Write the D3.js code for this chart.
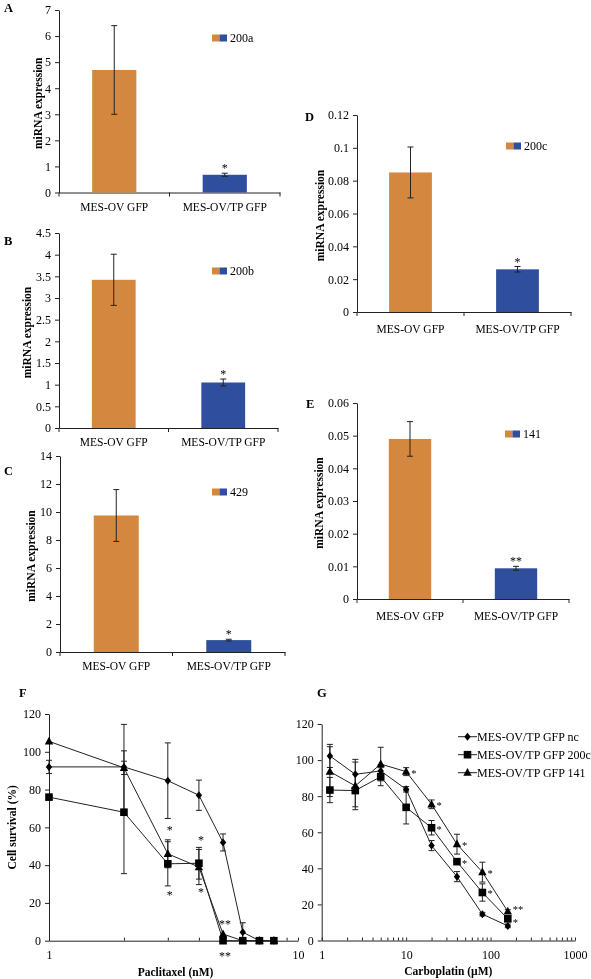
<!DOCTYPE html>
<html><head><meta charset="utf-8">
<script src="https://cdn.jsdelivr.net/npm/d3@7"></script>
<style>
body{margin:0;background:#fff}
svg{display:block;will-change:transform}
text{font-family:"Liberation Serif","Times New Roman",serif;fill:#000;-webkit-font-smoothing:antialiased}
.tick text{font-size:12px;font-family:"Liberation Serif","Times New Roman",serif}
.cat .tick text{font-size:11.5px}
.domain,.tick line{stroke:#222}
</style>
</head><body><svg id="c" width="591" height="979"></svg>
<script>
// ---------- data: bar panels ----------
const categories = ["MES-OV GFP", "MES-OV/TP GFP"];
const expr200a = [4.7, 0.68];   const err200a = [1.7, 0.06];  const sig200a = ["", "*"];
const expr200b = [3.42, 1.05];  const err200b = [0.59, 0.08]; const sig200b = ["", "*"];
const expr429  = [9.75, 0.85];  const err429  = [1.85, 0.06]; const sig429  = ["", "*"];
const expr200c = [0.085, 0.026]; const err200c = [0.0155, 0.0017]; const sig200c = ["", "*"];
const expr141  = [0.049, 0.0094]; const err141 = [0.0053, 0.0006]; const sig141 = ["", "**"];
const ticks200a = [0,1,2,3,4,5,6,7];
const ticks200b = [0,0.5,1,1.5,2,2.5,3,3.5,4,4.5];
const ticks429  = [0,2,4,6,8,10,12,14];
const ticks200c = [0,0.02,0.04,0.06,0.08,0.1,0.12];
const ticks141  = [0,0.01,0.02,0.03,0.04,0.05,0.06];
const barYTitle = "miRNA expression";

// ---------- data: Paclitaxel (F) ----------
const pacConc = [1,2,3,4,5,6,7,8];
const pacNc    = [92, 92, 84.7, 77, 52, 4.5, 0, 0];
const pacNcErr = [3.5, 22.5, 20, 8, 4.5, 5, 0, 0];
const pac200c    = [76, 68, 40.7, 41, 0, 0, 0, 0];
const pac200cErr = [0, 32.5, 11.7, 8.4, 0, 0, 0, 0];
const pac141    = [105.5, 91.5, 46, 39, 3.5, 0, 0, 0];
const pac141Err = [0, 3.5, 7.4, 9.3, 0, 0, 0, 0];
const pacStarConc = [3, 4, 3, 4, 5, 5];
const pacStarVal  = [59.7, 54.4, 25.3, 26.4, 9.9, -7];
const pacStarText = ["*", "*", "*", "*", "**", "**"];

// ---------- data: Carboplatin (G) ----------
const carbConc = [1.25, 2.5, 5, 10, 20, 40, 80, 160];
const carbNc    = [102.3, 92.1, 94, 83.8, 52.6, 35.4, 14.6, 8.1];
const carbNcErr = [6.4, 8.3, 3.3, 1.5, 2.8, 2.8, 1, 1];
const carb200c    = [83.4, 83.1, 90.8, 73.8, 62.5, 43.7, 26.6, 12];
const carb200cErr = [7, 9, 5, 9.2, 4, 1.5, 4.8, 1.5];
const carb141    = [93.6, 85.7, 97.8, 93.6, 75.5, 53.4, 37.9, 16.1];
const carb141Err = [13.8, 13.2, 9.3, 2.2, 2.4, 5.5, 5.5, 1];
const carbStarConc = [10, 20, 20, 40, 40, 80, 80, 160, 160];
const carbStarVal  = [93.6, 75.5, 62.5, 53.4, 43.7, 37.9, 26.6, 17.8, 11];
const carbStarText = ["*", "*", "*", "*", "*", "*", "*", "**", "*"];
const seriesNames = ["MES-OV/TP GFP nc", "MES-OV/TP GFP 200c", "MES-OV/TP GFP 141"];
const survivalTicks = [0,20,40,60,80,100,120];

// ---------- drawing ----------
const svg = d3.select("#c");
const INK = "#222";
const COLORS = ["#d4883f", "#2f4f9e"];

function barPanel(L, values, errors, sig, ticks, mir, letter) {
  const g = svg.append("g");
  const x = d3.scaleBand().domain(categories).range([L.x0, L.x1]).paddingInner(0.6).paddingOuter(0.3);
  const y = d3.scaleLinear().domain([0, d3.max(ticks)]).range([L.yb, L.yt]);
  const ya = g.append("g").attr("transform", `translate(${L.x0},0)`)
    .call(d3.axisLeft(y).tickValues(ticks).tickSize(4).tickPadding(4).tickSizeOuter(0).tickFormat(d3.format("~g")));
  ya.attr("font-family", null).attr("font-size", null);
  const xa = g.append("g").attr("class", "cat").attr("transform", `translate(0,${L.yb})`)
    .call(d3.axisBottom(x).tickSize(0).tickPadding(L.pad).tickSizeOuter(0));
  xa.attr("font-family", null).attr("font-size", null);
  g.selectAll("line.bt").data([L.x0, (L.x0 + L.x1) / 2, L.x1]).join("line")
    .attr("x1", d => d).attr("x2", d => d).attr("y1", L.yb).attr("y2", L.yb + 4).attr("stroke", INK);
  g.selectAll("rect.bar").data(values).join("rect")
    .attr("x", (d, i) => x(categories[i])).attr("width", x.bandwidth())
    .attr("y", d => y(d)).attr("height", d => L.yb - y(d)).attr("fill", (d, i) => COLORS[i]);
  values.forEach((v, i) => {
    const cx = x(categories[i]) + x.bandwidth() / 2;
    const e = errors[i];
    g.append("line").attr("x1", cx).attr("x2", cx).attr("y1", y(v - e)).attr("y2", y(v + e)).attr("stroke", INK);
    [v - e, v + e].forEach(t => g.append("line").attr("x1", cx - 3).attr("x2", cx + 3).attr("y1", y(t)).attr("y2", y(t)).attr("stroke", INK));
    if (sig[i]) g.append("text").attr("x", cx).attr("y", y(v + e) - 1).attr("text-anchor", "middle").attr("font-size", 12).text(sig[i]);
  });
  // legend
  g.append("rect").attr("x", L.lgx).attr("y", L.lgy - 3.5).attr("width", 7.5).attr("height", 7).attr("fill", COLORS[0]);
  g.append("rect").attr("x", L.lgx + 7.5).attr("y", L.lgy - 3.5).attr("width", 7.5).attr("height", 7).attr("fill", COLORS[1]);
  g.append("text").attr("x", L.lgx + 18).attr("y", L.lgy + 4).attr("font-size", 12).text(mir);
  g.append("text").attr("transform", `translate(${L.tx},${(L.yt + L.yb) / 2 + 2}) rotate(-90)`)
    .attr("text-anchor", "middle").attr("dominant-baseline", "central").attr("font-weight", "bold").attr("font-size", 11.5).text(barYTitle);
  g.append("text").attr("x", L.lx).attr("y", L.ly).attr("font-weight", "bold").attr("font-size", 12.5).text(letter);
}

barPanel({x0:59, x1:280, yt:10, yb:192.5, pad:10, lgx:212, lgy:38, tx:38, lx:4, ly:12}, expr200a, err200a, sig200a, ticks200a, "200a", "A");
barPanel({x0:59, x1:278, yt:233, yb:428, pad:10, lgx:212, lgy:271, tx:26.5, lx:4, ly:245}, expr200b, err200b, sig200b, ticks200b, "200b", "B");
barPanel({x0:60, x1:285, yt:456, yb:652, pad:10, lgx:212, lgy:492, tx:31, lx:4, ly:475}, expr429, err429, sig429, ticks429, "429", "C");
barPanel({x0:357, x1:571, yt:115, yb:312, pad:13, lgx:506, lgy:146, tx:320, lx:305, ly:121}, expr200c, err200c, sig200c, ticks200c, "200c", "D");
barPanel({x0:357, x1:569, yt:403, yb:599, pad:13, lgx:505, lgy:434, tx:319, lx:306, ly:408}, expr141, err141, sig141, ticks141, "141", "E");

// marker symbols
const diamondSym = {draw(ctx, s) { ctx.moveTo(0, -s); ctx.lineTo(s * 0.8, 0); ctx.lineTo(0, s); ctx.lineTo(-s * 0.8, 0); ctx.closePath(); }};
const squareSym = {draw(ctx, s) { ctx.rect(-s, -s, 2 * s, 2 * s); }};
const triSym = {draw(ctx, s) { ctx.moveTo(0, -s * 1.1); ctx.lineTo(s, s * 0.75); ctx.lineTo(-s, s * 0.75); ctx.closePath(); }};
const markers = [d3.symbol(diamondSym, 4)(), d3.symbol(squareSym, 3.8)(), d3.symbol(triSym, 4.2)()];

function linePanel(L, conc, series, errs, starConc, starVal, starText, starMode, starSize, xTitle, letter) {
  const g = svg.append("g");
  const x = d3.scaleLog().domain(L.xd).range([L.x0, L.x1]);
  const y = d3.scaleLinear().domain([0, 120]).range([L.yb, L.yt]);
  const ya = g.append("g").attr("transform", `translate(${L.x0},0)`)
    .call(d3.axisLeft(y).tickValues(survivalTicks).tickSize(4).tickPadding(4).tickSizeOuter(0));
  ya.attr("font-family", null).attr("font-size", null);
  const xa = g.append("g").attr("transform", `translate(0,${L.yb})`)
    .call(d3.axisBottom(x).tickValues(x.ticks()).tickSize(-3).tickPadding(10).tickSizeOuter(0)
      .tickFormat(d => Math.abs(Math.log10(d) - Math.round(Math.log10(d))) < 1e-9 ? d3.format("d")(d) : ""));
  xa.attr("font-family", null).attr("font-size", null);
  const line = d3.line().x(d => x(d[0])).y(d => y(d[1]));
  series.forEach((vals, si) => {
    const pts = conc.map((c, i) => [c, vals[i]]);
    g.append("path").attr("d", line(pts)).attr("fill", "none").attr("stroke", INK).attr("stroke-width", 1);
    pts.forEach(([c, v], i) => {
      const e = errs[si][i];
      if (e > 0) {
        const cx = x(c);
        g.append("line").attr("x1", cx).attr("x2", cx).attr("y1", y(v - e)).attr("y2", y(v + e)).attr("stroke", INK);
        [v - e, v + e].forEach(t => g.append("line").attr("x1", cx - 3).attr("x2", cx + 3).attr("y1", y(t)).attr("y2", y(t)).attr("stroke", INK));
      }
    });
  });
  series.forEach((vals, si) => {
    g.selectAll(null).data(conc.map((c, i) => [c, vals[i]])).join("path")
      .attr("d", markers[si]).attr("transform", d => `translate(${x(d[0])},${y(d[1])})`).attr("fill", "#000");
  });
  starConc.forEach((c, i) => {
    const t = g.append("text").attr("y", y(starVal[i]) + starSize * 0.47).attr("font-size", starSize).text(starText[i]);
    if (starMode === "center") t.attr("x", x(c) + 2).attr("text-anchor", "middle");
    else t.attr("x", x(c) + 5).attr("text-anchor", "start");
  });
  g.append("text").attr("x", (L.x0 + L.x1) / 2 + L.xtdx).attr("y", L.xty).attr("text-anchor", "middle")
    .attr("font-weight", "bold").attr("font-size", 11.5).text(xTitle);
  g.append("text").attr("x", L.lx).attr("y", L.ly).attr("font-weight", "bold").attr("font-size", 12.5).text(letter);
  return {g, x, y};
}

linePanel({xd:[1,10], x0:49, x1:298, yt:714, yb:940.7, xtdx:2, xty:976, lx:19, ly:697},
  pacConc, [pacNc, pac200c, pac141], [pacNcErr, pac200cErr, pac141Err],
  pacStarConc, pacStarVal, pacStarText, "center", 12, "Paclitaxel (nM)", "F");
svg.append("text").attr("transform", `translate(12,${(714 + 940.7) / 2}) rotate(-90)`)
  .attr("text-anchor", "middle").attr("dominant-baseline", "central").attr("font-weight", "bold").attr("font-size", 11.5).text("Cell survival (%)");

linePanel({xd:[1,1000], x0:321.7, x1:575, yt:724, yb:940.5, xtdx:0, xty:975, lx:317, ly:697},
  carbConc, [carbNc, carb200c, carb141], [carbNcErr, carb200cErr, carb141Err],
  carbStarConc, carbStarVal, carbStarText, "right", 10.5, "Carboplatin  (\u00b5M)", "G");

// legend G
const lg = svg.append("g");
seriesNames.forEach((name, i) => {
  const yy = 736.7 + i * 18;
  lg.append("line").attr("x1", 458).attr("x2", 477).attr("y1", yy).attr("y2", yy).attr("stroke", INK);
  lg.append("path").attr("d", markers[i]).attr("transform", `translate(467.5,${yy})`).attr("fill", "#000");
  lg.append("text").attr("x", 477).attr("y", yy + 4).attr("font-size", 12).text(name);
});
</script>
</body></html>
